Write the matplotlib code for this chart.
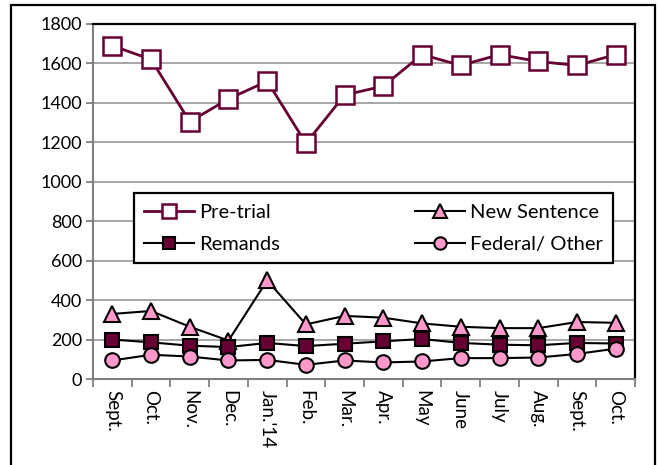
import matplotlib
matplotlib.use("Agg")
import matplotlib.pyplot as plt
from matplotlib.patches import Rectangle

months = ["Sept.", "Oct.", "Nov.", "Dec.", "Jan.'14", "Feb.", "Mar.", "Apr.",
          "May", "June", "July", "Aug.", "Sept.", "Oct."]
pretrial = [1690, 1620, 1305, 1420, 1510, 1195, 1440, 1485, 1645, 1590, 1645, 1610, 1590, 1645]
new_sentence = [330, 345, 265, 195, 500, 277, 320, 311, 282, 265, 258, 258, 289, 285]
remands = [200, 186, 169, 162, 183, 167, 179, 191, 203, 183, 174, 171, 183, 180]
federal = [94, 123, 114, 94, 97, 72, 94, 84, 89, 106, 106, 109, 127, 154]
yticks = list(range(0, 1801, 200))

MAROON = "#660033"
PINK = "#FF99CC"

plt.rcParams['font.family'] = ['Lato', 'DejaVu Sans']

fig = plt.figure(figsize=(6.59, 4.65), dpi=100)
ax = fig.add_axes([0.1411, 0.1849, 0.9636 - 0.1411, 0.9484 - 0.1849])

# outer border
fig.patches.append(Rectangle((11 / 659, -0.05), (655 - 11) / 659, 1.05 - 5 / 465,
                             transform=fig.transFigure, fill=False,
                             edgecolor='black', lw=1.6, zorder=10))

x = list(range(len(months)))
ax.plot(x, pretrial, color=MAROON, lw=2, marker='s', ms=12.5, mfc='white',
        mec=MAROON, mew=1.8, label="Pre-trial", zorder=5)
ax.plot(x, new_sentence, color='black', lw=1.5, marker='^', ms=12, mfc=PINK,
        mec='black', mew=1.5, label="New Sentence", zorder=4)
ax.plot(x, remands, color='black', lw=1.5, marker='s', ms=10.5, mfc=MAROON,
        mec='black', mew=1.5, label="Remands", zorder=4)
ax.plot(x, federal, color='black', lw=1.5, marker='o', ms=10.5, mfc=PINK,
        mec='black', mew=1.5, label="Federal/ Other", zorder=4)

ax.set_xlim(-0.5, len(months) - 0.5)
ax.set_ylim(0, 1800)
ax.set_yticks(yticks)
ax.set_yticklabels([str(v) for v in yticks], fontsize=13)
ax.yaxis.grid(True, color='#A0A0A0', lw=1.3)
ax.set_axisbelow(True)

ax.set_xticks([i - 0.5 for i in range(len(months) + 1)])
ax.set_xticklabels([])
ax.set_xticks(x, minor=True)
ax.set_xticklabels(months, minor=True, rotation=-90, fontsize=13.5, va='top', ha='center')
ax.tick_params(axis='x', which='minor', length=0, pad=8)
ax.tick_params(axis='x', which='major', length=6, color='#808080', width=1.3)
ax.tick_params(axis='y', length=5, color='#808080', width=1.3, pad=3)

for s in ['left', 'bottom']:
    ax.spines[s].set_color('#808080')
    ax.spines[s].set_linewidth(1.5)
for s in ['top', 'right']:
    ax.spines[s].set_color('black')
    ax.spines[s].set_linewidth(1.6)

handles, labels = ax.get_legend_handles_labels()
order = [0, 2, 1, 3]
leg = ax.legend([handles[i] for i in order], [labels[i] for i in order],
                ncol=2, loc='lower left', mode='expand',
                bbox_to_anchor=(0.0756, 0.327, 0.884, 0.191),
                borderaxespad=0,
                fontsize=14.5, frameon=True, fancybox=False, framealpha=1,
                edgecolor='black', handlelength=2.5, markerscale=0.85,
                borderpad=0.5, labelspacing=0.75, handletextpad=0.25,
                columnspacing=1.0)
leg.get_frame().set_linewidth(1.6)
leg.set_zorder(6)

fig.savefig("out.png", dpi=100)
